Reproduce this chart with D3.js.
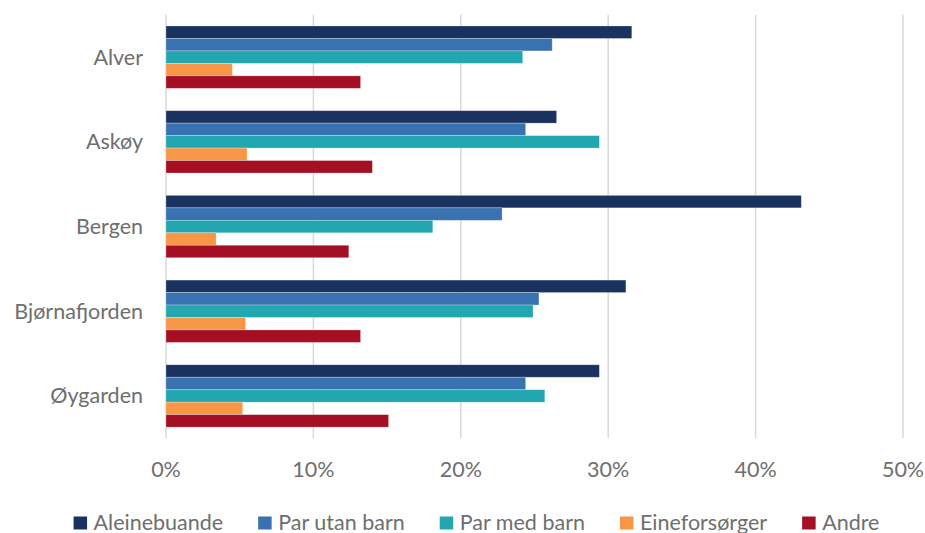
<!DOCTYPE html>
<html>
<head>
<meta charset="utf-8">
<script src="https://cdn.jsdelivr.net/npm/d3@7/dist/d3.min.js"></script>
<style>
  html, body { margin: 0; padding: 0; background: #fff; }
  svg { display: block; }
  text { font-family: Lato, "Open Sans", sans-serif; fill: #6e6e6e; }
</style>
</head>
<body>
<svg id="chart" width="925" height="533"></svg>
<script>
const categories = ["Alver", "Askøy", "Bergen", "Bjørnafjorden", "Øygarden"];
const seriesNames = ["Aleinebuande", "Par utan barn", "Par med barn", "Eineforsørger", "Andre"];
const aleinebuande = [31.6, 26.5, 43.1, 31.2, 29.4];
const parUtanBarn  = [26.2, 24.4, 22.8, 25.3, 24.4];
const parMedBarn   = [24.2, 29.4, 18.1, 24.9, 25.7];
const eineforsorger = [4.5, 5.5, 3.4, 5.4, 5.2];
const andre        = [13.2, 14.0, 12.4, 13.2, 15.1];
const tickValues = [0, 10, 20, 30, 40, 50];
const colors = ["#1a3260", "#3872b0", "#22a6b0", "#f79646", "#a50f24"];

const seriesValues = [aleinebuande, parUtanBarn, parMedBarn, eineforsorger, andre];

const svg = d3.select("#chart");
const plot = { left: 166, right: 903, top: 14.8, bottom: 438.3 };

const x = d3.scaleLinear().domain([0, 50]).range([plot.left, plot.right]);
const y = d3.scaleBand().domain(categories).range([plot.top, plot.bottom]).paddingInner(0.264).paddingOuter(0.132);
const ySub = d3.scaleBand().domain(seriesNames).range([0, y.bandwidth()]);

// gridlines
svg.append("g").selectAll("line").data(tickValues).join("line")
  .attr("x1", d => x(d)).attr("x2", d => x(d))
  .attr("y1", plot.top).attr("y2", plot.bottom)
  .attr("stroke", "#d9d9d9").attr("stroke-width", 1.5);

// bars
const groups = svg.append("g").selectAll("g").data(categories).join("g")
  .attr("transform", d => `translate(0,${y(d)})`);
groups.selectAll("rect")
  .data((c, i) => seriesNames.map((s, j) => ({ s, v: seriesValues[j][i], c: colors[j] })))
  .join("rect")
  .attr("x", x(0))
  .attr("y", d => ySub(d.s))
  .attr("width", d => x(d.v) - x(0))
  .attr("height", ySub.bandwidth())
  .attr("fill", d => d.c)
  .attr("stroke", "rgba(255,255,255,0.35)")
  .attr("stroke-width", 0.75);

const fs = 21.5;

// category labels
svg.append("g").selectAll("text").data(categories).join("text")
  .attr("x", 143)
  .attr("y", d => y(d) + y.bandwidth() / 2 + 7.5)
  .attr("text-anchor", "end")
  .attr("font-size", fs)
  .text(d => d);

// x tick labels
svg.append("g").selectAll("text").data(tickValues).join("text")
  .attr("x", d => x(d))
  .attr("y", 477)
  .attr("text-anchor", "middle")
  .attr("font-size", fs)
  .text(d => d + "%");

// legend
const legend = svg.append("g");
const items = legend.selectAll("g").data(seriesNames).join("g");
items.append("rect").attr("width", 13.5).attr("height", 13).attr("y", 516.5)
  .attr("fill", (d, i) => colors[i]);
items.append("text").attr("x", 20).attr("y", 529.5).attr("font-size", fs).text(d => d);
const widths = [];
items.each(function () { widths.push(this.querySelector("text").getComputedTextLength() + 20); });
const gap = 35;
const total = d3.sum(widths) + gap * (widths.length - 1);
let cx = 476.5 - total / 2;
items.attr("transform", (d, i) => { const t = `translate(${cx},0)`; cx += widths[i] + gap; return t; });
</script>
</body>
</html>
